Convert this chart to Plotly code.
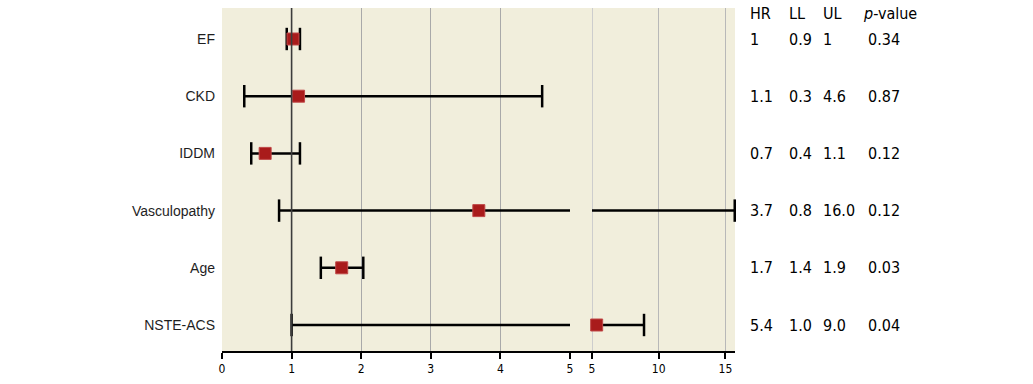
import plotly.graph_objects as go

# ---- data ----
labels = ["EF", "CKD", "IDDM", "Vasculopathy", "Age", "NSTE-ACS"]
hr = [1.02, 1.1, 0.62, 3.69, 1.72, 5.35]
ll = [0.93, 0.32, 0.42, 0.82, 1.42, 1.0]
ul = [1.12, 4.6, 1.12, 15.7, 2.03, 8.9]

hr_txt = ["1", "1.1", "0.7", "3.7", "1.7", "5.4"]
ll_txt = ["0.9", "0.3", "0.4", "0.8", "1.4", "1.0"]
ul_txt = ["1", "4.6", "1.1", "16.0", "1.9", "9.0"]
p_txt = ["0.34", "0.87", "0.12", "0.12", "0.03", "0.04"]

left_ticks = [0, 1, 2, 3, 4, 5]
right_ticks = [5, 10, 15]
BREAK = 5

# ---- layout geometry ----
W, H = 1033, 384
L, R, T, B = 222, 735, 8, 352
pw = R - L
gap0, gap1 = 570, 592
d1 = [0, (gap0 - L) / pw]
d2 = [(gap1 - L) / pw, 1]

BG = "#F1EEDC"
NARROW = "Liberation Sans Narrow, DejaVu Sans Condensed, Arial Narrow, sans-serif"
RED = "#A91B1B"

fig = go.Figure()

ys = list(range(len(labels)))

for i in ys:
    y = ys[i]
    if ll[i] < BREAK:
        fig.add_trace(go.Scatter(x=[ll[i], min(ul[i], BREAK)], y=[y, y], mode="lines",
                                 line=dict(color="black", width=2.5), xaxis="x", yaxis="y",
                                 showlegend=False, hoverinfo="skip"))
    if ul[i] > BREAK:
        fig.add_trace(go.Scatter(x=[max(ll[i], BREAK), ul[i]], y=[y, y], mode="lines",
                                 line=dict(color="black", width=2.5), xaxis="x2", yaxis="y",
                                 showlegend=False, hoverinfo="skip"))
    for v in (ll[i], ul[i]):
        ax = "x" if v <= BREAK else "x2"
        fig.add_trace(go.Scatter(x=[v], y=[y], mode="markers",
                                 marker=dict(symbol="line-ns", size=16,
                                             line=dict(color="black", width=2.5)),
                                 xaxis=ax, yaxis="y", cliponaxis=False,
                                 showlegend=False, hoverinfo="skip"))

for i in ys:
    ax = "x" if hr[i] <= BREAK else "x2"
    fig.add_trace(go.Scatter(x=[hr[i]], y=[ys[i]], mode="markers",
                             marker=dict(symbol="square", size=12, color=RED,
                                         line=dict(color="#C04848", width=1)),
                             xaxis=ax, yaxis="y", cliponaxis=False,
                             showlegend=False, hoverinfo="skip"))

shapes = [
    dict(type="rect", xref="paper", yref="paper", x0=0, x1=1, y0=0, y1=1,
         fillcolor=BG, line=dict(width=0), layer="below"),
    dict(type="line", xref="x2", yref="paper", x0=5, x1=5, y0=0, y1=1,
         line=dict(color="#CDCDCD", width=2), layer="below"),
    dict(type="line", xref="x", yref="paper", x0=1, x1=1, y0=0, y1=1,
         line=dict(color="#3C3C3C", width=1.6)),
    dict(type="line", xref="paper", yref="paper", x0=0, x1=1, y0=0, y1=0,
         line=dict(color="black", width=2)),
]

annotations = []
FS = 16
cols = [(748, hr_txt), (787, ll_txt), (821, ul_txt), (866, p_txt)]
heads = [(748, "HR"), (787, "LL"), (821, "UL"), (861, "<i>p</i>-value")]
for px, txt in heads:
    annotations.append(dict(x=(px - L) / pw, y=-0.44, xref="paper", yref="y", text=txt,
                            showarrow=False, xanchor="left", yanchor="middle",
                            font=dict(family=NARROW, size=FS, color="black")))
for px, arr in cols:
    for i in ys:
        annotations.append(dict(x=(px - L) / pw, y=ys[i], xref="paper", yref="y", text=arr[i],
                                showarrow=False, xanchor="left", yanchor="middle",
                                font=dict(family=NARROW, size=FS, color="black")))

row_px = 57.2
top_extra = (39 - T) / row_px
bot_extra = (B - 325) / row_px

fig.update_layout(
    width=W, height=H,
    margin=dict(l=L, r=W - R, t=T, b=H - B),
    paper_bgcolor="white", plot_bgcolor=BG,
    shapes=shapes, annotations=annotations,
    xaxis=dict(domain=d1, range=[0, 5], tickvals=left_ticks,
               showgrid=True, gridcolor="#A9A9A9", gridwidth=1, zeroline=False,
               ticks="outside", ticklen=6, tickwidth=1.5, tickcolor="black",
               showline=False, tickfont=dict(family=NARROW, size=12, color="black"),
               anchor="y"),
    xaxis2=dict(domain=d2, range=[5, 15.72], tickvals=right_ticks,
                showgrid=True, gridcolor="#B8B8B8", gridwidth=1, zeroline=False,
                ticks="outside", ticklen=6, tickwidth=1.5, tickcolor="black",
                showline=False, tickfont=dict(family=NARROW, size=12, color="black"),
                anchor="y"),
    yaxis=dict(range=[len(labels) - 1 + bot_extra, -top_extra], tickvals=ys, ticktext=labels,
               showgrid=False, zeroline=False, showline=False, ticks="",
               ticklabelstandoff=6,
               tickfont=dict(family="Liberation Sans, Arial, sans-serif", size=14, color="#1E1E1E")),
)

fig.write_html("out.html")
